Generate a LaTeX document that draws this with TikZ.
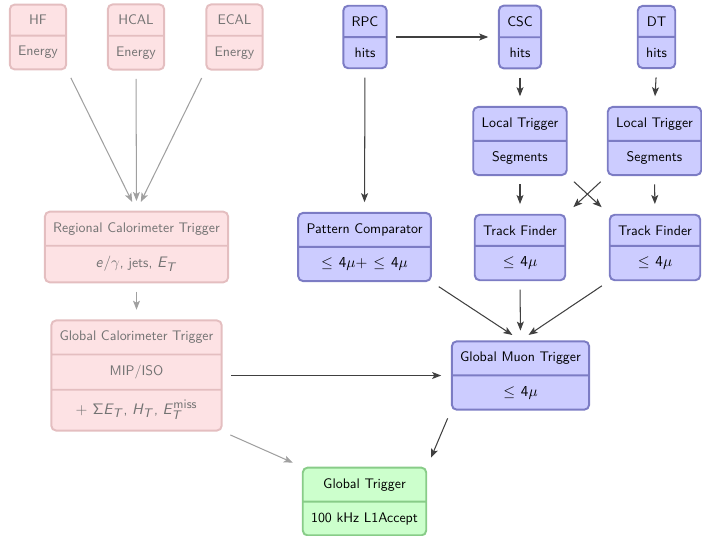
\documentclass[tikz,border=0pt]{standalone}
\usetikzlibrary{shapes.multipart,arrows.meta}

% sans-serif slanted letters for math, as in a beamer-style sans math setup
\DeclareMathAlphabet{\mathsfit}{OT1}{cmss}{m}{sl}
% formulas are set a little larger than the labels, with roomy scripts
\DeclareMathSizes{11}{11}{8.8}{7}
\newcommand{\mth}[1]{{\fontsize{11}{13}\selectfont\thickmuskip=7mu plus 2mu$#1$}}
\newcommand{\ET}{\mathsfit{E}_{\mathsfit{T}}}
\newcommand{\HT}{\mathsfit{H}_{\mathsfit{T}}}
\newcommand{\fourmu}{\leq \mathsf{4}\mu}

\definecolor{calofill}{RGB}{253,226,228}
\definecolor{caloline}{RGB}{228,190,192}
\definecolor{calotext}{RGB}{115,115,115}
\definecolor{muonfill}{RGB}{204,204,255}
\definecolor{muonline}{RGB}{124,124,196}
\definecolor{gtfill}{RGB}{204,255,204}
\definecolor{gtline}{RGB}{136,204,136}
\definecolor{darkarrow}{RGB}{64,64,64}
\definecolor{grayarrow}{RGB}{160,160,160}

\tikzset{
  box/.style={rectangle split, rectangle split parts=2, draw,
    rounded corners=3.5pt, line width=1.4pt,
    inner xsep=6pt, inner ysep=7pt, font=\sffamily},
  calo/.style={box, fill=calofill, draw=caloline, text=calotext},
  muon/.style={box, fill=muonfill, draw=muonline},
  gtbox/.style={box, fill=gtfill, draw=gtline},
  flow/.style={-{Stealth[length=6.5pt,width=5pt,inset=1.5pt]},
    line width=0.75pt, draw=darkarrow,
    shorten <=6pt, shorten >=7pt},
  calflow/.style={flow, draw=grayarrow},
}

\begin{document}
\begin{tikzpicture}[x=0.72pt, y=-0.72pt]
  \useasboundingbox (0,0) rectangle (702,535);

  % calorimeter chain
  \node[calo] (hf)   at (38,37)    {HF \nodepart{two} Energy};
  \node[calo] (hcal) at (136,37)   {HCAL \nodepart{two} Energy};
  \node[calo] (ecal) at (234.5,37) {ECAL \nodepart{two} Energy};
  \node[calo] (rct)  at (136.5,247)
    {Regional Calorimeter Trigger \nodepart{two} \mth{\mathsfit{e}/\gamma}, jets, \mth{\ET}};
  \node[calo, rectangle split parts=3] (gct) at (136.5,375.5)
    {Global Calorimeter Trigger \nodepart{two} MIP/ISO
     \nodepart{three} \mth{+\ \mathsf{\Sigma}\ET}, \mth{\HT}, \mth{\ET^{\mathsf{miss}}}};

  % muon chain
  \node[muon] (rpc)   at (365,37)    {RPC \nodepart{two} hits};
  \node[muon] (csc)   at (520,37)    {CSC \nodepart{two} hits};
  \node[muon] (dt)    at (656.5,37)  {DT \nodepart{two} hits};
  \node[muon] (ltcsc) at (520,141)   {Local Trigger \nodepart{two} Segments};
  \node[muon] (ltdt)  at (654.5,141) {Local Trigger \nodepart{two} Segments};
  \node[muon] (pc)    at (364.5,247) {Pattern Comparator \nodepart{two} \mth{\fourmu + \fourmu}};
  \node[muon] (tfcsc) at (520,247.5) {Track Finder \nodepart{two} \mth{\fourmu}};
  \node[muon] (tfdt)  at (655,247.5) {Track Finder \nodepart{two} \mth{\fourmu}};
  \node[muon] (gmt)   at (520.5,375.5) {Global Muon Trigger \nodepart{two} \mth{\fourmu}};

  % global decision
  \node[gtbox] (gt) at (364.5,501.5) {Global Trigger \nodepart{two} 100 kHz L1Accept};

  % calorimeter connections
  \draw[calflow] (hf.south east) -- (rct.north);
  \draw[calflow] (hcal.south) -- (rct.north);
  \draw[calflow] (ecal.south west) -- (rct.north);
  \draw[calflow] (rct.south) -- (gct.north);
  \draw[calflow] (gct.south east) -- (gt.north west);
  \draw[flow] (gct.east) -- (gmt.west);

  % muon connections
  \draw[flow] (rpc.east) -- (csc.west);
  \draw[flow] (rpc.south) -- (pc.north);
  \draw[flow] (csc.south) -- (ltcsc.north);
  \draw[flow] (dt.south) -- (ltdt.north);
  \draw[flow] (ltcsc.south) -- (tfcsc.north);
  \draw[flow] (ltdt.south) -- (tfdt.north);
  \draw[flow] (ltcsc.south east) -- (tfdt.north west);
  \draw[flow] (ltdt.south west) -- (tfcsc.north east);
  \draw[flow] (pc.south east) -- (gmt.north);
  \draw[flow] (tfcsc.south) -- (gmt.north);
  \draw[flow] (tfdt.south west) -- (gmt.north);
  \draw[flow] (gmt.south west) -- (gt.north east);
\end{tikzpicture}
\end{document}
